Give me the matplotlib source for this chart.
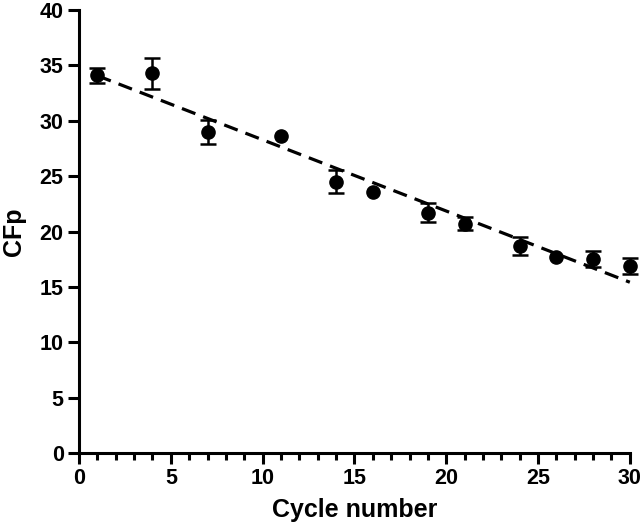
import numpy as np
import matplotlib
matplotlib.use("Agg")
import matplotlib.pyplot as plt
from matplotlib.ticker import MultipleLocator

plt.rcParams['font.family'] = ['Liberation Sans', 'DejaVu Sans']
plt.rcParams['font.weight'] = 'bold'

cycle = [1, 4, 7, 11, 14, 16, 19, 21, 24, 26, 28, 30]
cfp = [34.1, 34.3, 29.0, 28.6, 24.5, 23.6, 21.7, 20.7, 18.7, 17.7, 17.5, 16.9]
# 0 = error bar smaller than the symbol (not shown)
err = [0.7, 1.4, 1.1, 0, 1.05, 0, 0.85, 0.6, 0.8, 0, 0.7, 0.7]

fig = plt.figure(figsize=(6.44, 5.29), dpi=100)
ax = fig.add_axes([0.1227, 0.1437, 0.978 - 0.1227, 0.981 - 0.1437])

# linear fit of the means
slope, icpt = np.polyfit(cycle, cfp, 1)
xf = np.array([cycle[0], cycle[-1]])
ax.plot(xf, slope * xf + icpt, color='black', lw=2.3, ls=(0, (4.5, 2.6)),
        zorder=2, clip_on=False)

ex = [c for c, e in zip(cycle, err) if e > 0]
ey = [v for v, e in zip(cfp, err) if e > 0]
ee = [e for e in err if e > 0]
ax.errorbar(ex, ey, yerr=ee, fmt='none', ecolor='black',
            elinewidth=1.8, capsize=5.5, capthick=1.8, zorder=3, clip_on=False)
ax.plot(cycle, cfp, 'o', color='black', ms=9.5, zorder=4, clip_on=False)

ax.set_xlim(0, 30)
ax.set_ylim(0, 40)
ax.xaxis.set_major_locator(MultipleLocator(5))
ax.xaxis.set_minor_locator(MultipleLocator(1))
ax.yaxis.set_major_locator(MultipleLocator(5))

for s in ['top', 'right']:
    ax.spines[s].set_visible(False)
for s in ['left', 'bottom']:
    ax.spines[s].set_linewidth(2.2)

ax.tick_params(which='major', direction='out', length=8, width=2.2,
               labelsize=15.5, pad=3)
ax.tick_params(which='minor', direction='out', length=5, width=2.2)

ax.set_xlabel('Cycle number', fontsize=18, fontweight='bold', labelpad=6)
ax.set_ylabel('CFp', fontsize=18, fontweight='bold', labelpad=10)

fig.savefig('out.png', dpi=100)
